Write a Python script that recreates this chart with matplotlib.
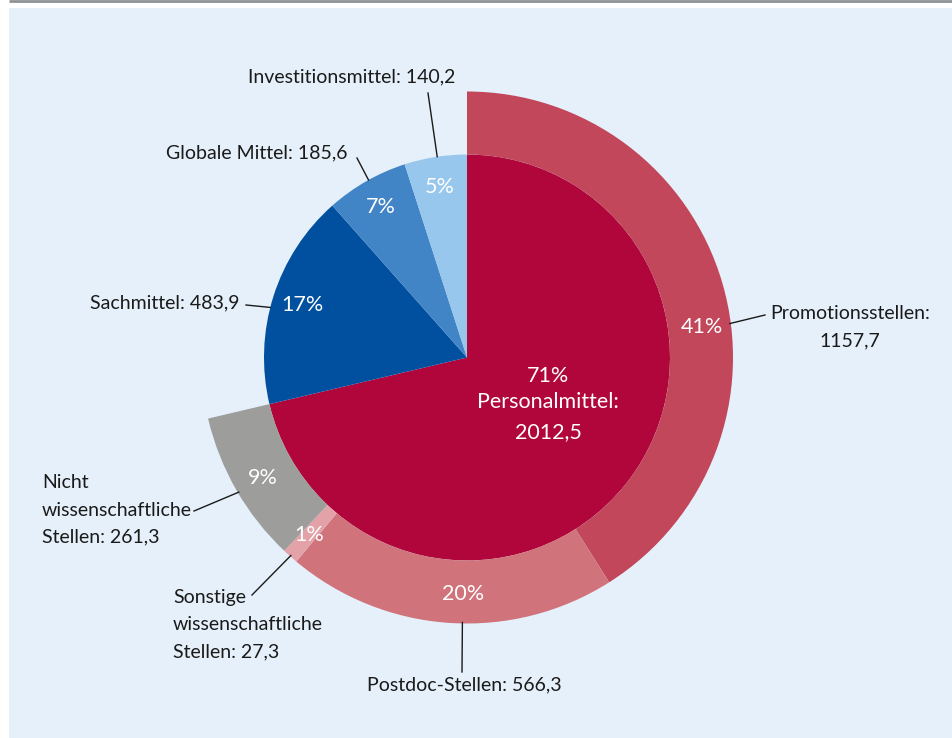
import numpy as np
import matplotlib
matplotlib.use("Agg")
import matplotlib.pyplot as plt
from matplotlib.patches import Rectangle

plt.rcParams['font.family'] = ['Lato', 'DejaVu Sans']

# ---- data ----
inner_labels = ["Personalmittel", "Sachmittel", "Globale Mittel", "Investitionsmittel"]
inner_values = [2012.5, 483.9, 185.6, 140.2]
inner_pct = ["71%", "17%", "7%", "5%"]
inner_colors = ["#b0063b", "#00509f", "#4285c7", "#97c7ec"]

outer_labels = ["Promotionsstellen", "Postdoc-Stellen",
                "Sonstige wissenschaftliche Stellen", "Nicht wissenschaftliche Stellen"]
outer_values = [1157.7, 566.3, 27.3, 261.3]
outer_pct = ["41%", "20%", "1%", "9%"]
outer_colors = ["#c2475a", "#d0737b", "#e3a2a7", "#9d9d9c"]

inner_text = ["Personalmittel:\n2012,5", "Sachmittel: 483,9",
              "Globale Mittel: 185,6", "Investitionsmittel: 140,2"]
outer_text = ["Promotionsstellen:\n1157,7", "Postdoc-Stellen: 566,3",
              "Sonstige\nwissenschaftliche\nStellen: 27,3",
              "Nicht\nwissenschaftliche\nStellen: 261,3"]

W, H = 952, 738
fig = plt.figure(figsize=(W / 100, H / 100), dpi=100)
fig.patch.set_facecolor("white")
ax = fig.add_axes([0, 0, 1, 1])
ax.set_axis_off()

def Y(y):
    return H - y

# background panel and top rule
ax.add_patch(Rectangle((9, 0), W - 9, Y(8), facecolor="#e5f0fa", edgecolor="none", zorder=0))
ax.plot([9, W], [Y(0.8), Y(0.8)], color="#8e9297", lw=2, zorder=1, solid_capstyle="butt")

cx, cy = 467, Y(357.5)
r_in, r_out = 203, 266
total = sum(inner_values)

ax.pie(np.array(inner_values) / total, radius=r_in, center=(cx, cy), startangle=90,
       counterclock=False, colors=inner_colors, normalize=False, frame=True,
       wedgeprops=dict(linewidth=0))
ax.pie(np.array(outer_values) / total, radius=r_out, center=(cx, cy), startangle=90,
       counterclock=False, colors=outer_colors, normalize=False, frame=True,
       wedgeprops=dict(width=r_out - r_in, linewidth=0))

ax.set_xlim(0, W)
ax.set_ylim(0, H)
ax.set_aspect("equal")
ax.set_axis_off()

fs = 14.0
fs_pct = 15.5
ls = 1.74

def angles(values):
    res = []
    a = 90.0
    for v in values:
        span = v / total * 360
        res.append((a, a - span))
        a -= span
    return res

inner_ang = angles(inner_values)
outer_ang = angles(outer_values)

def pt(angle, r):
    t = np.deg2rad(angle)
    return cx + r * np.cos(t), cy + r * np.sin(t)

# percentage labels (inner)
for i, (a0, a1) in enumerate(inner_ang):
    if i == 0:
        continue
    x, y = pt((a0 + a1) / 2, 173)
    ax.text(x, y, inner_pct[i], color="white", fontsize=fs_pct, ha="center", va="center")
ax.text(548, Y(376), inner_pct[0], color="white", fontsize=fs_pct, ha="center", va="center")
ax.text(548, Y(417), inner_text[0], color="white", fontsize=fs_pct, ha="center",
        va="center", linespacing=1.6)

lc = "#1a1a1a"
# outer leader angle offsets from wedge middle
outer_off = [-8.8, 2.8, 0.0, 0.6]
outer_end = [(765, 315), (462, 672), (252, 595), (194, 511)]
outer_tpos = [(850, 327), (464, 685), (173, 625), (42, 510)]
outer_ha = ["center", "center", "left", "left"]

for i, (a0, a1) in enumerate(outer_ang):
    m = (a0 + a1) / 2 + outer_off[i]
    x, y = pt(m, 237)
    ax.text(x, y, outer_pct[i], color="white", fontsize=fs_pct, ha="center", va="center")
    sx, sy = pt(m, r_out - 1)
    ex, ey = outer_end[i]
    ax.plot([sx, ex], [sy, Y(ey)], color=lc, lw=1)
    tx, ty = outer_tpos[i]
    ax.text(tx, Y(ty), outer_text[i], fontsize=fs, ha=outer_ha[i], va="center",
            color=lc, multialignment=outer_ha[i], linespacing=ls)

inner_leader = {
    1: (3.3, (246, 305), (239, 303), "right"),
    2: (-0.7, (357, 158), (347, 153), "right"),
    3: (-0.5, (428, 93), (352, 77), "center"),
}
for i, (off, end, tpos, ha) in inner_leader.items():
    a0, a1 = inner_ang[i]
    sx, sy = pt((a0 + a1) / 2 + off, r_in)
    ax.plot([sx, end[0]], [sy, Y(end[1])], color=lc, lw=1)
    ax.text(tpos[0], Y(tpos[1]), inner_text[i], fontsize=fs, ha=ha, va="center", color=lc)

fig.savefig("out.png", dpi=100, facecolor="white")
